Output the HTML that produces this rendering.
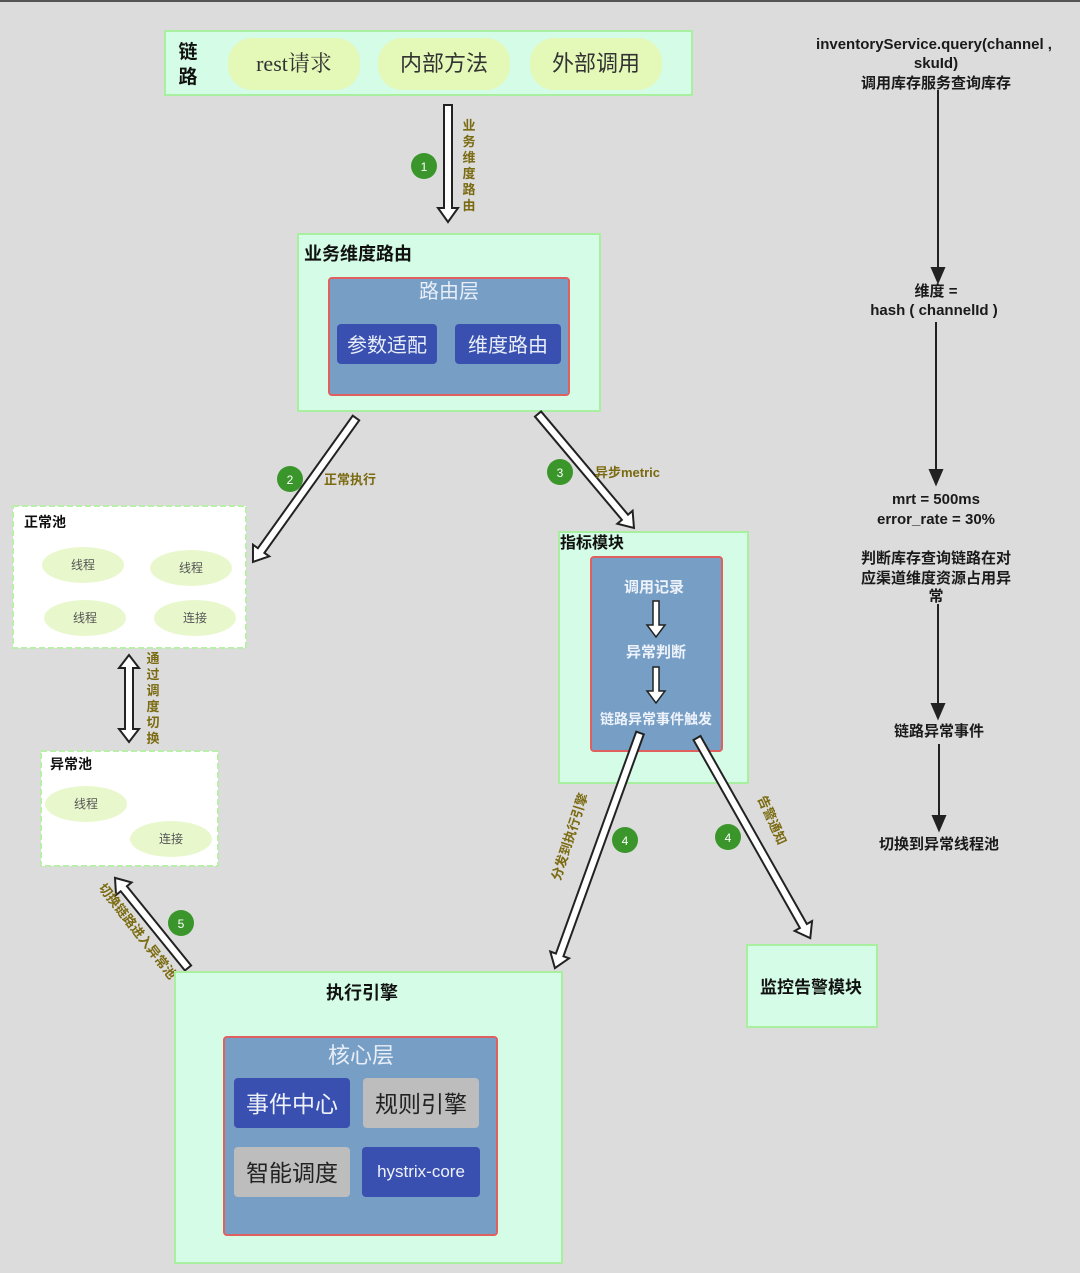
<!DOCTYPE html>
<html><head><meta charset="utf-8"><style>
html,body{margin:0;padding:0;background:#dcdcdc;}
svg{display:block;font-family:"Liberation Sans","Noto Sans CJK SC",sans-serif;}
</style></head><body>
<svg width="1080" height="1273" viewBox="0 0 1080 1273" xmlns="http://www.w3.org/2000/svg">
<rect width="1080" height="1273" fill="#dcdcdc"/>
<rect width="1080" height="2" fill="#555"/>
<!-- top chain -->
<rect x="165" y="31" width="527" height="64" fill="#d4fce6" stroke="#a8f0a0" stroke-width="2"/>
<text x="188" y="58" font-size="19" font-weight="bold" text-anchor="middle" fill="#111">链</text>
<text x="188" y="83" font-size="19" font-weight="bold" text-anchor="middle" fill="#111">路</text>
<rect x="228" y="38" width="132" height="52" rx="24" fill="#e4f8b8"/>
<rect x="378" y="38" width="132" height="52" rx="24" fill="#e4f8b8"/>
<rect x="530" y="38" width="132" height="52" rx="24" fill="#e4f8b8"/>
<text x="294" y="71" font-size="22" text-anchor="middle" fill="#333" font-family="Liberation Serif,Noto Serif CJK SC,serif">rest请求</text>
<text x="444" y="71" font-size="22" text-anchor="middle" fill="#333">内部方法</text>
<text x="596" y="71" font-size="22" text-anchor="middle" fill="#333">外部调用</text>

<!-- arrow 1 -->
<g transform="translate(448,105) rotate(90)" fill="#fff" stroke="#222" stroke-width="2"><polygon points="0,-4 103,-4 103,-10 117,0 103,10 103,4 0,4"/></g>
<circle cx="424" cy="166" r="13" fill="#3a962a"/><text x="424" y="171" font-size="12" fill="#fff" text-anchor="middle">1</text>
<g font-size="13" font-weight="bold" fill="#7a6a10" text-anchor="middle">
<text x="469" y="130">业</text><text x="469" y="146">务</text><text x="469" y="162">维</text><text x="469" y="178">度</text><text x="469" y="194">路</text><text x="469" y="210">由</text></g>

<!-- routing -->
<rect x="298" y="234" width="302" height="177" fill="#d4fce6" stroke="#a8f0a0" stroke-width="2"/>
<text x="304" y="260" font-size="18" font-weight="bold" fill="#111">业务维度路由</text>
<rect x="329" y="278" width="240" height="117" rx="3" fill="#779fc6" stroke="#e06060" stroke-width="2"/>
<text x="449" y="298" font-size="20" fill="#e8eef8" text-anchor="middle">路由层</text>
<rect x="337" y="324" width="100" height="40" rx="4" fill="#3a50b0"/>
<rect x="455" y="324" width="106" height="40" rx="4" fill="#3a50b0"/>
<text x="387" y="352" font-size="20" fill="#e8eef8" text-anchor="middle">参数适配</text>
<text x="508" y="352" font-size="20" fill="#e8eef8" text-anchor="middle">维度路由</text>

<!-- arrow 2 -->
<g transform="translate(356,418) rotate(125.6)" fill="#fff" stroke="#222" stroke-width="2"><polygon points="0,-4 163,-4 163,-10 177,0 163,10 163,4 0,4"/></g>
<circle cx="290" cy="479" r="13" fill="#3a962a"/><text x="290" y="484" font-size="12" fill="#fff" text-anchor="middle">2</text>
<text x="324" y="484" font-size="13" font-weight="bold" fill="#7a6a10">正常执行</text>
<!-- arrow 3 -->
<g transform="translate(538,414) rotate(49.9)" fill="#fff" stroke="#222" stroke-width="2"><polygon points="0,-4 135,-4 135,-10 149,0 135,10 135,4 0,4"/></g>
<circle cx="560" cy="472" r="13" fill="#3a962a"/><text x="560" y="477" font-size="12" fill="#fff" text-anchor="middle">3</text>
<text x="595" y="477" font-size="13" font-weight="bold" fill="#7a6a10">异步metric</text>

<!-- normal pool -->
<rect x="13" y="506" width="233" height="142" fill="#fff" stroke="#b8f0a8" stroke-width="2" stroke-dasharray="6,3"/>
<text x="24" y="527" font-size="14" font-weight="bold" fill="#111">正常池</text>
<ellipse cx="83" cy="565" rx="41" ry="18" fill="#e8f8cc"/><text x="83" y="569" font-size="12" fill="#555" text-anchor="middle">线程</text>
<ellipse cx="191" cy="568" rx="41" ry="18" fill="#e8f8cc"/><text x="191" y="572" font-size="12" fill="#555" text-anchor="middle">线程</text>
<ellipse cx="85" cy="618" rx="41" ry="18" fill="#e8f8cc"/><text x="85" y="622" font-size="12" fill="#555" text-anchor="middle">线程</text>
<ellipse cx="195" cy="618" rx="41" ry="18" fill="#e8f8cc"/><text x="195" y="622" font-size="12" fill="#555" text-anchor="middle">连接</text>

<!-- double arrow -->
<g fill="#fff" stroke="#222" stroke-width="2"><polygon points="125,668 119,668 129,655 139,668 133,668 133,729 139,729 129,742 119,729 125,729"/></g>
<g font-size="13" font-weight="bold" fill="#7a6a10" text-anchor="middle">
<text x="153" y="663">通</text><text x="153" y="679">过</text><text x="153" y="695">调</text><text x="153" y="711">度</text><text x="153" y="727">切</text><text x="153" y="743">换</text></g>

<!-- abnormal pool -->
<rect x="41" y="751" width="177" height="115" fill="#fff" stroke="#b8f0a8" stroke-width="2" stroke-dasharray="6,3"/>
<text x="50" y="769" font-size="14" font-weight="bold" fill="#111">异常池</text>
<ellipse cx="86" cy="804" rx="41" ry="18" fill="#e8f8cc"/><text x="86" y="808" font-size="12" fill="#555" text-anchor="middle">线程</text>
<ellipse cx="171" cy="839" rx="41" ry="18" fill="#e8f8cc"/><text x="171" y="843" font-size="12" fill="#555" text-anchor="middle">连接</text>

<!-- metric module -->
<rect x="559" y="532" width="189" height="251" fill="#d4fce6" stroke="#a8f0a0" stroke-width="2"/>
<text x="560" y="548" font-size="16" font-weight="bold" fill="#111">指标模块</text>
<rect x="591" y="557" width="131" height="194" rx="3" fill="#779fc6" stroke="#e06060" stroke-width="2"/>
<text x="654" y="592" font-size="15" font-weight="bold" fill="#eef2fa" text-anchor="middle">调用记录</text>
<text x="656" y="657" font-size="15" font-weight="bold" fill="#eef2fa" text-anchor="middle">异常判断</text>
<text x="656" y="724" font-size="14" font-weight="bold" fill="#eef2fa" text-anchor="middle">链路异常事件触发</text>
<g fill="#fff" stroke="#222" stroke-width="1.5">
<polygon points="653,601 659,601 659,625 665,625 656,637 647,625 653,625"/>
<polygon points="653,667 659,667 659,691 665,691 656,703 647,691 653,691"/></g>

<!-- arrow 4a / 4b -->
<g transform="translate(640,733) rotate(109.9)" fill="#fff" stroke="#222" stroke-width="2"><polygon points="0,-4 236,-4 236,-10 250,0 236,10 236,4 0,4"/></g>
<g transform="translate(697,738) rotate(60.5)" fill="#fff" stroke="#222" stroke-width="2"><polygon points="0,-4 216,-4 216,-10 230,0 216,10 216,4 0,4"/></g>
<circle cx="625" cy="840" r="13" fill="#3a962a"/><text x="625" y="845" font-size="12" fill="#fff" text-anchor="middle">4</text>
<circle cx="728" cy="837" r="13" fill="#3a962a"/><text x="728" y="842" font-size="12" fill="#fff" text-anchor="middle">4</text>
<text transform="translate(574,838) rotate(-72)" font-size="13" font-weight="bold" fill="#7a6a10" text-anchor="middle">分发到执行引擎</text>
<text transform="translate(768,822) rotate(66)" font-size="13" font-weight="bold" fill="#7a6a10" text-anchor="middle">告警通知</text>

<!-- arrow 5 -->
<g transform="translate(188,968) rotate(-129)" fill="#fff" stroke="#222" stroke-width="2"><polygon points="0,-4 102,-4 102,-10 116,0 102,10 102,4 0,4"/></g>
<circle cx="181" cy="923" r="13" fill="#3a962a"/><text x="181" y="928" font-size="12" fill="#fff" text-anchor="middle">5</text>
<text transform="translate(134,934) rotate(52)" font-size="13" font-weight="bold" fill="#7a6a10" text-anchor="middle">切换链路进入异常池</text>

<!-- monitor -->
<rect x="747" y="945" width="130" height="82" fill="#d4fce6" stroke="#a8f0a0" stroke-width="2"/>
<text x="811" y="993" font-size="17" font-weight="bold" fill="#111" text-anchor="middle">监控告警模块</text>

<!-- execution engine -->
<rect x="175" y="972" width="387" height="291" fill="#d4fce6" stroke="#a8f0a0" stroke-width="2"/>
<text x="362" y="999" font-size="18" font-weight="bold" fill="#111" text-anchor="middle">执行引擎</text>
<rect x="224" y="1037" width="273" height="198" rx="3" fill="#779fc6" stroke="#e06060" stroke-width="2"/>
<text x="361" y="1063" font-size="22" fill="#e8eef8" text-anchor="middle">核心层</text>
<rect x="234" y="1078" width="116" height="50" rx="4" fill="#3a50b0"/>
<text x="292" y="1112" font-size="23" fill="#eef2fa" text-anchor="middle">事件中心</text>
<rect x="363" y="1078" width="116" height="50" rx="4" fill="#bdbdbd"/>
<text x="421" y="1112" font-size="23" fill="#222" text-anchor="middle">规则引擎</text>
<rect x="234" y="1147" width="116" height="50" rx="4" fill="#bdbdbd"/>
<text x="292" y="1181" font-size="23" fill="#222" text-anchor="middle">智能调度</text>
<rect x="362" y="1147" width="118" height="50" rx="4" fill="#3a50b0"/>
<text x="421" y="1177" font-size="17" fill="#eef2fa" text-anchor="middle">hystrix-core</text>

<!-- right flow -->
<g font-size="15" font-weight="bold" fill="#1a1a1a" text-anchor="middle">
<text x="934" y="49">inventoryService.query(channel ,</text>
<text x="936" y="68">skuId)</text>
<text x="936" y="88">调用库存服务查询库存</text>
<text x="936" y="296">维度 =</text>
<text x="934" y="315">hash ( channelId )</text>
<text x="936" y="504">mrt = 500ms</text>
<text x="936" y="524">error_rate = 30%</text>
<text x="936" y="563">判断库存查询链路在对</text>
<text x="936" y="583">应渠道维度资源占用异</text>
<text x="936" y="601">常</text>
<text x="939" y="736">链路异常事件</text>
<text x="939" y="849">切换到异常线程池</text>
</g>
<g stroke="#222" stroke-width="2" fill="#222">
<line x1="938" y1="90" x2="938" y2="270"/><polygon points="932,268 944,268 938,282"/>
<line x1="936" y1="322" x2="936" y2="472"/><polygon points="930,470 942,470 936,484"/>
<line x1="938" y1="604" x2="938" y2="706"/><polygon points="932,704 944,704 938,718"/>
<line x1="939" y1="744" x2="939" y2="818"/><polygon points="933,816 945,816 939,830"/>
</g>
</svg>
</body></html>
